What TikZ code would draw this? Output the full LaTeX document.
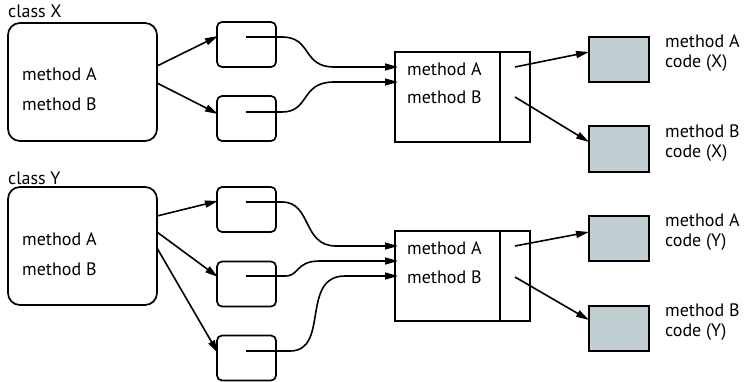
\documentclass[tikz,border=0pt]{standalone}
\usepackage{fontspec}
\setmainfont{PT Sans}
\usetikzlibrary{arrows.meta}
\definecolor{codegray}{RGB}{194,207,210}
\tikzset{
  classbox/.style={draw, line width=1.7pt, rounded corners=12pt, minimum width=149pt, minimum height=118pt, inner sep=0pt},
  ptrbox/.style={draw, line width=1.7pt, rounded corners=5pt, minimum width=59pt, minimum height=45pt, inner sep=0pt},
  vtbox/.style={draw, line width=1.5pt, minimum width=135pt, minimum height=90pt, inner sep=0pt},
  codebox/.style={draw, line width=1.7pt, fill=codegray, minimum width=60pt, minimum height=45pt, inner sep=0pt},
  txt/.style={font=\fontsize{18}{20}\selectfont, inner sep=0pt, anchor=west, align=left},
  arr/.style={line width=1.6pt, -{Triangle[length=13pt,width=7pt]}},
  crv/.style={line width=1.6pt, -{Triangle[length=13pt,width=7pt]}}
}
\begin{document}
\begin{tikzpicture}[x=1pt,y=-1pt]
\useasboundingbox (0,0) rectangle (746,382);

% ---------- class X ----------
\node[txt] (lx) at (8,11) {class X};
\node[classbox] (cx) at (82.5,82) {};
\node[txt] (cxa) at (22,74) {method A};
\node[txt] (cxb) at (22,104) {method B};

\node[ptrbox] (px1) at (246.5,44.5) {};
\node[ptrbox] (px2) at (246.5,118.5) {};

\node[vtbox] (vx) at (462.5,97) {};
\draw[line width=1.5pt] (500,52) -- (500,142);
\node[txt] (vxa) at (407,69) {method A};
\node[txt] (vxb) at (407,97) {method B};

\node[codebox] (gxa) at (619,59.5) {};
\node[codebox, minimum height=46pt] (gxb) at (619,149) {};
\node[txt] (lxa) at (665,53) {method A\\code (X)};
\node[txt] (lxb) at (665,143) {method B\\code (X)};

\coordinate (cxo1) at (157,66);
\coordinate (cxo2) at (157,83);
\coordinate (px1i) at (218,36);
\coordinate (px2i) at (218,114);
\draw[arr] (cxo1) -- (px1i);
\draw[arr] (cxo2) -- (px2i);

\coordinate (px1s) at (246,37);
\coordinate (px2s) at (246,112);
\coordinate (vxa1) at (398,67);
\coordinate (vxb1) at (398,82);
\draw[crv] (px1s) -- (282,37) .. controls (312,37) and (302,67) .. (334,67) -- (vxa1);
\draw[crv] (px2s) -- (282,112) .. controls (310,112) and (300,82) .. (334,82) -- (vxb1);

\coordinate (vxs1) at (515,67);
\coordinate (vxs2) at (515,97);
\coordinate (gxai) at (589,52);
\coordinate (gxbi) at (589,142);
\draw[arr] (vxs1) -- (gxai);
\draw[arr] (vxs2) -- (gxbi);

% ---------- class Y ----------
\node[txt] (ly) at (8,178) {class Y};
\node[classbox] (cy) at (82.5,246) {};
\node[txt] (cya) at (22,239) {method A};
\node[txt] (cyb) at (22,269) {method B};

\node[ptrbox] (py1) at (246.5,209.5) {};
\node[ptrbox] (py2) at (246.5,284) {};
\node[ptrbox] (py3) at (246.5,358) {};

\node[vtbox] (vy) at (462.5,276) {};
\draw[line width=1.5pt] (500,231) -- (500,321);
\node[txt] (vya) at (407,248) {method A};
\node[txt] (vyb) at (407,277) {method B};

\node[codebox] (gya) at (619,238.5) {};
\node[codebox] (gyb) at (619,328.5) {};
\node[txt] (lya) at (665,232.5) {method A\\code (Y)};
\node[txt] (lyb) at (665,322.5) {method B\\code (Y)};

\coordinate (cyo1) at (157,216);
\coordinate (cyo2) at (157,232);
\coordinate (cyo3) at (157,248);
\coordinate (py1i) at (218,201);
\coordinate (py2i) at (218,277);
\coordinate (py3i) at (218,353);
\draw[arr] (cyo1) -- (py1i);
\draw[arr] (cyo2) -- (py2i);
\draw[arr] (cyo3) -- (py3i);

\coordinate (py1s) at (246,202);
\coordinate (py2s) at (246,276);
\coordinate (py3s) at (246,351);
\coordinate (vya1) at (398,246);
\coordinate (vyb1) at (398,261);
\coordinate (vyc1) at (398,276);
\draw[crv] (py1s) -- (282,202) .. controls (312,202) and (302,246) .. (336,246) -- (vya1);
\draw[crv] (py2s) -- (285,276) .. controls (300,276) and (295,261) .. (320,261) -- (vyb1);
\draw[crv] (py3s) -- (290,351) .. controls (330,351) and (300,276) .. (345,276) -- (vyc1);

\coordinate (vys1) at (515,246);
\coordinate (vys2) at (515,277);
\coordinate (gyai) at (589,232);
\coordinate (gybi) at (589,320);
\draw[arr] (vys1) -- (gyai);
\draw[arr] (vys2) -- (gybi);
\end{tikzpicture}
\end{document}
